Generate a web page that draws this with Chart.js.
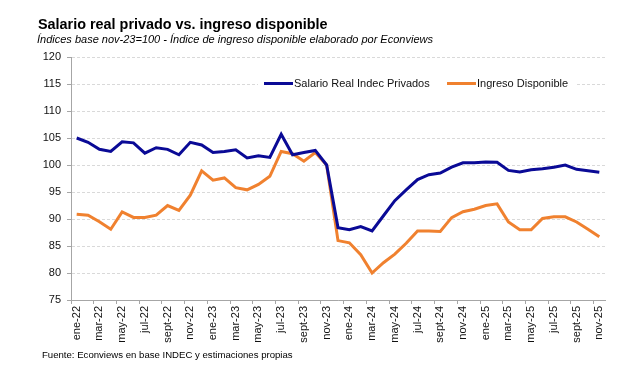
<!DOCTYPE html>
<html lang="es">
<head>
  <meta charset="UTF-8" />
  <title>Salario real privado vs. ingreso disponible</title>
  <style>
    * { box-sizing: border-box; }
    body, html {
      margin: 0; padding: 0;
      width: 639px; height: 365px;
      background: #fff;
      font-family: 'Liberation Sans', Arial, sans-serif;
      color: #000;
      overflow: hidden;
    }
    #wrap { position: relative; width: 639px; height: 365px; }
    #chartBox { position: absolute; left: 0; top: 0; width: 639px; height: 365px; }
    .title {
      position: absolute; left: 38px; top: 17px;
      font-size: 14.4px; line-height: 14px; font-weight: 700;
      white-space: nowrap;
    }
    .subtitle {
      position: absolute; left: 37px; top: 34px;
      font-size: 11px; line-height: 11px; font-style: italic;
      white-space: nowrap;
    }
    .source {
      position: absolute; left: 42px; top: 350px;
      font-size: 9.6px; line-height: 10px;
      white-space: nowrap;
    }
  </style>
</head>
<body>
  <div id="wrap">
    <div id="chartBox"><canvas id="salarioChart"></canvas></div>
    <div class="title">Salario real privado vs. ingreso disponible</div>
    <div class="subtitle">Índices base nov-23=100 - Índice de ingreso disponible elaborado por Econviews</div>
    <div class="source">Fuente: Econviews en base INDEC y estimaciones propias</div>
  </div>

  <script src="https://cdn.jsdelivr.net/npm/chart.js"></script>
  <script>
    // meses ene-22 .. nov-25
    const meses = [
      'ene-22','feb-22','mar-22','abr-22','may-22','jun-22','jul-22','ago-22','sept-22','oct-22','nov-22','dic-22',
      'ene-23','feb-23','mar-23','abr-23','may-23','jun-23','jul-23','ago-23','sept-23','oct-23','nov-23','dic-23',
      'ene-24','feb-24','mar-24','abr-24','may-24','jun-24','jul-24','ago-24','sept-24','oct-24','nov-24','dic-24',
      'ene-25','feb-25','mar-25','abr-25','may-25','jun-25','jul-25','ago-25','sept-25','oct-25','nov-25'
    ];

    const salarioReal = [
      105.0, 104.2, 102.9, 102.5, 104.3, 104.1, 102.2, 103.2, 102.9, 101.9, 104.2, 103.7,
      102.3, 102.5, 102.8, 101.3, 101.7, 101.4, 105.7, 101.9, 102.3, 102.7, 100.0, 88.4,
      88.0, 88.6, 87.8, 90.6, 93.4, 95.4, 97.3, 98.2, 98.5, 99.6, 100.4, 100.4,
      100.55, 100.5, 99.0, 98.7, 99.1, 99.3, 99.6, 100.0, 99.2, 98.95, 98.65
    ];

    const ingresoDisp = [
      90.9, 90.7, 89.5, 88.1, 91.3, 90.3, 90.3, 90.7, 92.5, 91.6, 94.4, 98.9,
      97.2, 97.6, 95.8, 95.4, 96.4, 97.9, 102.5, 102.1, 100.7, 102.3, 100.0, 86.0,
      85.6, 83.4, 80.0, 81.9, 83.5, 85.5, 87.8, 87.8, 87.7, 90.25, 91.35, 91.8,
      92.5, 92.8, 89.45, 88.0, 88.0, 90.1, 90.4, 90.4, 89.45, 88.1, 86.7
    ];

    const yTicks = [75, 80, 85, 90, 95, 100, 105, 110, 115, 120];

    const colorSalario = '#0a0a96';
    const colorIngreso = '#f0812f';

    Chart.defaults.font.family = "'Liberation Sans', Arial, sans-serif";
    Chart.defaults.font.size = 11;
    Chart.defaults.color = '#111';

    // leyenda dentro del area del grafico, como en Excel
    const leyendaPlugin = {
      id: 'leyenda',
      afterDraw(chart) {
        const c = chart.ctx;
        const y = 83.5;
        c.save();
        c.fillStyle = '#fff';
        c.fillRect(258, 76, 318, 16);
        c.lineWidth = 3;
        c.strokeStyle = colorSalario;
        c.beginPath(); c.moveTo(264, y); c.lineTo(293, y); c.stroke();
        c.strokeStyle = colorIngreso;
        c.beginPath(); c.moveTo(447, y); c.lineTo(476, y); c.stroke();
        c.fillStyle = '#111';
        c.font = "11px 'Liberation Sans', Arial, sans-serif";
        c.textBaseline = 'middle';
        c.fillText('Salario Real Indec Privados', 294, y);
        c.fillText('Ingreso Disponible', 477, y);
        c.restore();
      }
    };

    const ctx = document.getElementById('salarioChart').getContext('2d');
    const chart = new Chart(ctx, {
      type: 'line',
      data: {
        labels: meses,
        datasets: [
          {
            label: 'Salario Real Indec Privados',
            data: salarioReal,
            borderColor: colorSalario,
            backgroundColor: colorSalario,
            borderWidth: 3,
            pointRadius: 0,
            tension: 0,
            fill: false
          },
          {
            label: 'Ingreso Disponible',
            data: ingresoDisp,
            borderColor: colorIngreso,
            backgroundColor: colorIngreso,
            borderWidth: 3,
            pointRadius: 0,
            tension: 0,
            fill: false
          }
        ]
      },
      options: {
        responsive: true,
        maintainAspectRatio: false,
        animation: false,
        layout: { padding: { left: 0, right: 34, top: 57, bottom: 0 } },
        plugins: {
          legend: { display: false },
          tooltip: { enabled: false }
        },
        scales: {
          x: {
            type: 'category',
            offset: true,
            afterFit(scale) { scale.height = 65; },
            grid: {
              offset: true,
              drawOnChartArea: false,
              drawTicks: true,
              tickLength: 4,
              tickColor: (c) => (c.index !== undefined && c.index % 2 === 0) ? '#a6a6a6' : 'rgba(0,0,0,0)'
            },
            border: { display: true, color: '#a6a6a6', width: 1 },
            ticks: {
              autoSkip: false,
              maxRotation: 90,
              minRotation: 90,
              padding: 2,
              callback: (v, i) => (i % 2 === 0 ? meses[i] : '')
            }
          },
          y: {
            min: yTicks[0],
            max: yTicks[yTicks.length - 1],
            afterFit(scale) { scale.width = 71; },
            afterBuildTicks(scale) { scale.ticks = yTicks.map(v => ({ value: v })); },
            grid: {
              color: '#d9d9d9',
              lineWidth: 1,
              drawTicks: true,
              tickLength: 4,
              tickColor: '#a6a6a6'
            },
            border: { display: true, color: '#a6a6a6', width: 1, dash: [3, 2] },
            ticks: { padding: 6 }
          }
        }
      },
      plugins: [leyendaPlugin]
    });
  </script>
</body>
</html>
